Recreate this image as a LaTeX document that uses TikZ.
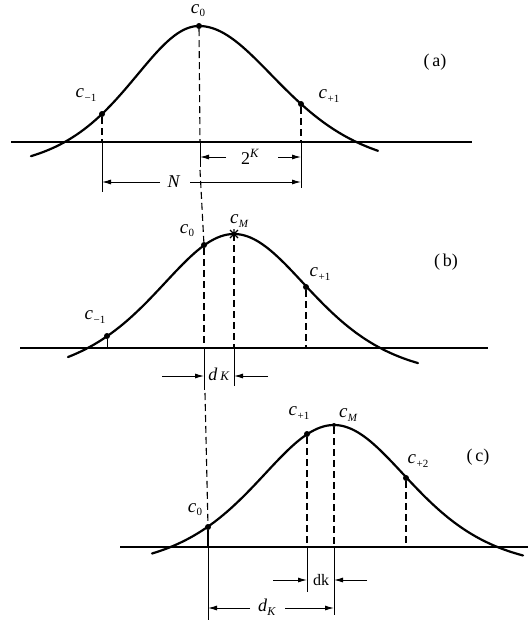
\documentclass[tikz,border=0pt]{standalone}
\usepackage{fontspec}
\setmainfont{Liberation Serif}
\usetikzlibrary{arrows.meta}
\newcommand\csub[1]{\textit{c}\kern0.4pt\raisebox{-0.35ex}{\fontsize{11}{11}\selectfont #1}}
\begin{document}
\begin{tikzpicture}[x=1pt,y=-1pt,
  curve/.style={line width=2.2pt, line cap=round, line join=round},
  axis/.style={line width=1.5pt},
  guide/.style={line width=1.1pt, dash pattern=on 7pt off 4pt},
  ext/.style={line width=1pt},
  dim/.style={line width=1pt, -{Latex[length=9pt,width=5pt]}},
  dot/.style={circle, fill, inner sep=0pt, minimum size=6pt},
  lab/.style={inner sep=1pt, font=\fontsize{19}{21}\selectfont},
  dimlab/.style={inner sep=1pt, font=\fontsize{18}{20}\selectfont},
  tag/.style={inner sep=1pt, font=\fontsize{18}{20}\selectfont}]
\useasboundingbox (0,0) rectangle (530,624);

% ---------------- panel (a) ----------------
\draw[axis] (11,142) -- (472,142);
\draw[curve] plot[domain=31:199, samples=70, smooth] (\x,{26+145*tanh((\x-199)/93)^2})
  -- plot[domain=199:378, samples=70, smooth] (\x,{26+145*tanh((\x-199)/109)^2});
\node[dot] (a0) at (199,26) {};
\node[dot] (am) at (102,114) {};
\node[dot] (ap) at (301,104) {};
\coordinate (a0x) at (200,142);
\coordinate (amx) at (102,142);
\coordinate (apx) at (301,142);
\coordinate (a0e) at (200,167);
\coordinate (ame) at (102,192);
\coordinate (ape) at (301,188);
\draw[guide] (a0) -- (a0x);
\draw[guide] (am) -- (amx);
\draw[guide] (ap) -- (apx);
\draw[ext] (a0x) -- (a0e);
\draw[ext] (amx) -- (ame);
\draw[ext] (apx) -- (ape);
\node[lab] (la0) at (198,11) {\csub{0}};
\node[lab] (lam) at (86,95) {\csub{−1}};
\node[lab] (lap) at (329,96) {\csub{+1}};
\node[tag] (ta) at (435,62) {(\,a)};
% 2^K
\node[dimlab] (k2) at (250,157) {2\textsuperscript{\itshape K}};
\coordinate (k2l) at (200,157);
\coordinate (k2r) at (301,157);
\coordinate (k2ls) at (226,157);
\coordinate (k2rs) at (278,157);
\draw[dim] (k2ls) -- (k2l);
\draw[dim] (k2rs) -- (k2r);
% N
\node[dimlab] (nn) at (174,182) {\textit{N}};
\coordinate (nl) at (102,182);
\coordinate (nr) at (301,182);
\coordinate (nls) at (160,182);
\coordinate (nrs) at (190,182);
\draw[dim] (nls) -- (nl);
\draw[dim] (nrs) -- (nr);

% ---------------- panel (b) ----------------
\draw[axis] (20,348) -- (488,348);
\draw[curve] plot[domain=68:418, samples=120, smooth] (\x,{234+145*tanh((\x-234)/104)^2});
\node[dot] (b0) at (204,245) {};
\node[dot] (bm) at (107,336) {};
\node[dot] (bp) at (306,287) {};
\coordinate (bM) at (234,234);
\draw[line width=1.2pt] ([shift={(-4,-4)}]bM) -- ([shift={(4,4)}]bM)
  ([shift={(-4,4)}]bM) -- ([shift={(4,-4)}]bM)
  ([shift={(0,-5)}]bM) -- ([shift={(0,5)}]bM);
\coordinate (b0x) at (204,348);
\coordinate (bMx) at (234,348);
\coordinate (bpx) at (306,348);
\coordinate (bmx) at (107,348);
\coordinate (b0e) at (204,390);
\coordinate (bMe) at (234,386);
\draw[guide] (b0) -- (b0x);
\draw[guide] (bM) -- (bMx);
\draw[guide] (bp) -- (bpx);
\draw[ext] (bm) -- (bmx);
\draw[ext] (b0x) -- (b0e);
\draw[ext] (bMx) -- (bMe);
% long guide from (a) to (b)
\coordinate (g1) at (200,170);
\draw[guide] (g1) -- (b0);
\node[lab] (lb0) at (187,231) {\csub{0}};
\node[lab] (lbM) at (239,221) {\csub{\itshape M}};
\node[lab] (lbp) at (320,274) {\csub{+1}};
\node[lab] (lbm) at (95,317) {\csub{−1}};
\node[tag] (tb) at (446,262) {(\,b)};
% d K
\node[dimlab] (dk1) at (219,374) {\textit{d}\,{\fontsize{13}{13}\selectfont\textit{K}}};
\coordinate (dk1l) at (204,376);
\coordinate (dk1r) at (234,376);
\coordinate (dk1ls) at (162,376);
\coordinate (dk1rs) at (268,376);
\draw[dim] (dk1ls) -- (dk1l);
\draw[dim] (dk1rs) -- (dk1r);

% ---------------- panel (c) ----------------
\draw[axis] (120,547) -- (528,547);
\draw[curve] plot[domain=152:523, samples=120, smooth] (\x,{425+145*tanh((\x-334)/104)^2});
\node[dot] (c0) at (208,527) {};
\node[dot] (cp) at (307,434) {};
\node[dot, minimum size=4pt] (cM) at (334,425) {};
\node[dot] (cq) at (406,478) {};
\coordinate (g2) at (205,393);
\draw[guide] (g2) -- (c0);
\coordinate (c0x) at (208,547);
\coordinate (cpx) at (307,547);
\coordinate (cMx) at (334,547);
\coordinate (cqx) at (406,547);
\coordinate (c0e) at (208,620);
\coordinate (cpe) at (307,592);
\coordinate (cMe) at (334,615);
\draw[line width=1.6pt] (c0) -- (c0x);
\draw[ext] (c0x) -- (c0e);
\draw[guide] (cp) -- (cpx);
\draw[guide] (cM) -- (cMx);
\draw[guide] (cq) -- (cqx);
\draw[ext] (cpx) -- (cpe);
\draw[ext] (cMx) -- (cMe);
\node[lab] (lc0) at (195,510) {\csub{0}};
\node[lab] (lcp) at (299,413) {\csub{+1}};
\node[lab] (lcM) at (348,415) {\csub{\itshape M}};
\node[lab] (lcq) at (418,461) {\csub{+2}};
\node[tag] (tc) at (478,457) {(\,c)};
% dk
\node[dimlab, font=\fontsize{16}{18}\selectfont] (dk2) at (321,580) {dk};
\coordinate (dk2l) at (307,580);
\coordinate (dk2r) at (334,580);
\coordinate (dk2ls) at (273,580);
\coordinate (dk2rs) at (367,580);
\draw[dim] (dk2ls) -- (dk2l);
\draw[dim] (dk2rs) -- (dk2r);
% d_K
\node[dimlab] (dK) at (267,607) {\textit{d}\raisebox{-0.5ex}{\fontsize{12}{12}\selectfont\textit{K}}};
\coordinate (dKl) at (208,608);
\coordinate (dKr) at (334,608);
\coordinate (dKls) at (250,608);
\coordinate (dKrs) at (285,608);
\draw[dim] (dKls) -- (dKl);
\draw[dim] (dKrs) -- (dKr);
\end{tikzpicture}
\end{document}
